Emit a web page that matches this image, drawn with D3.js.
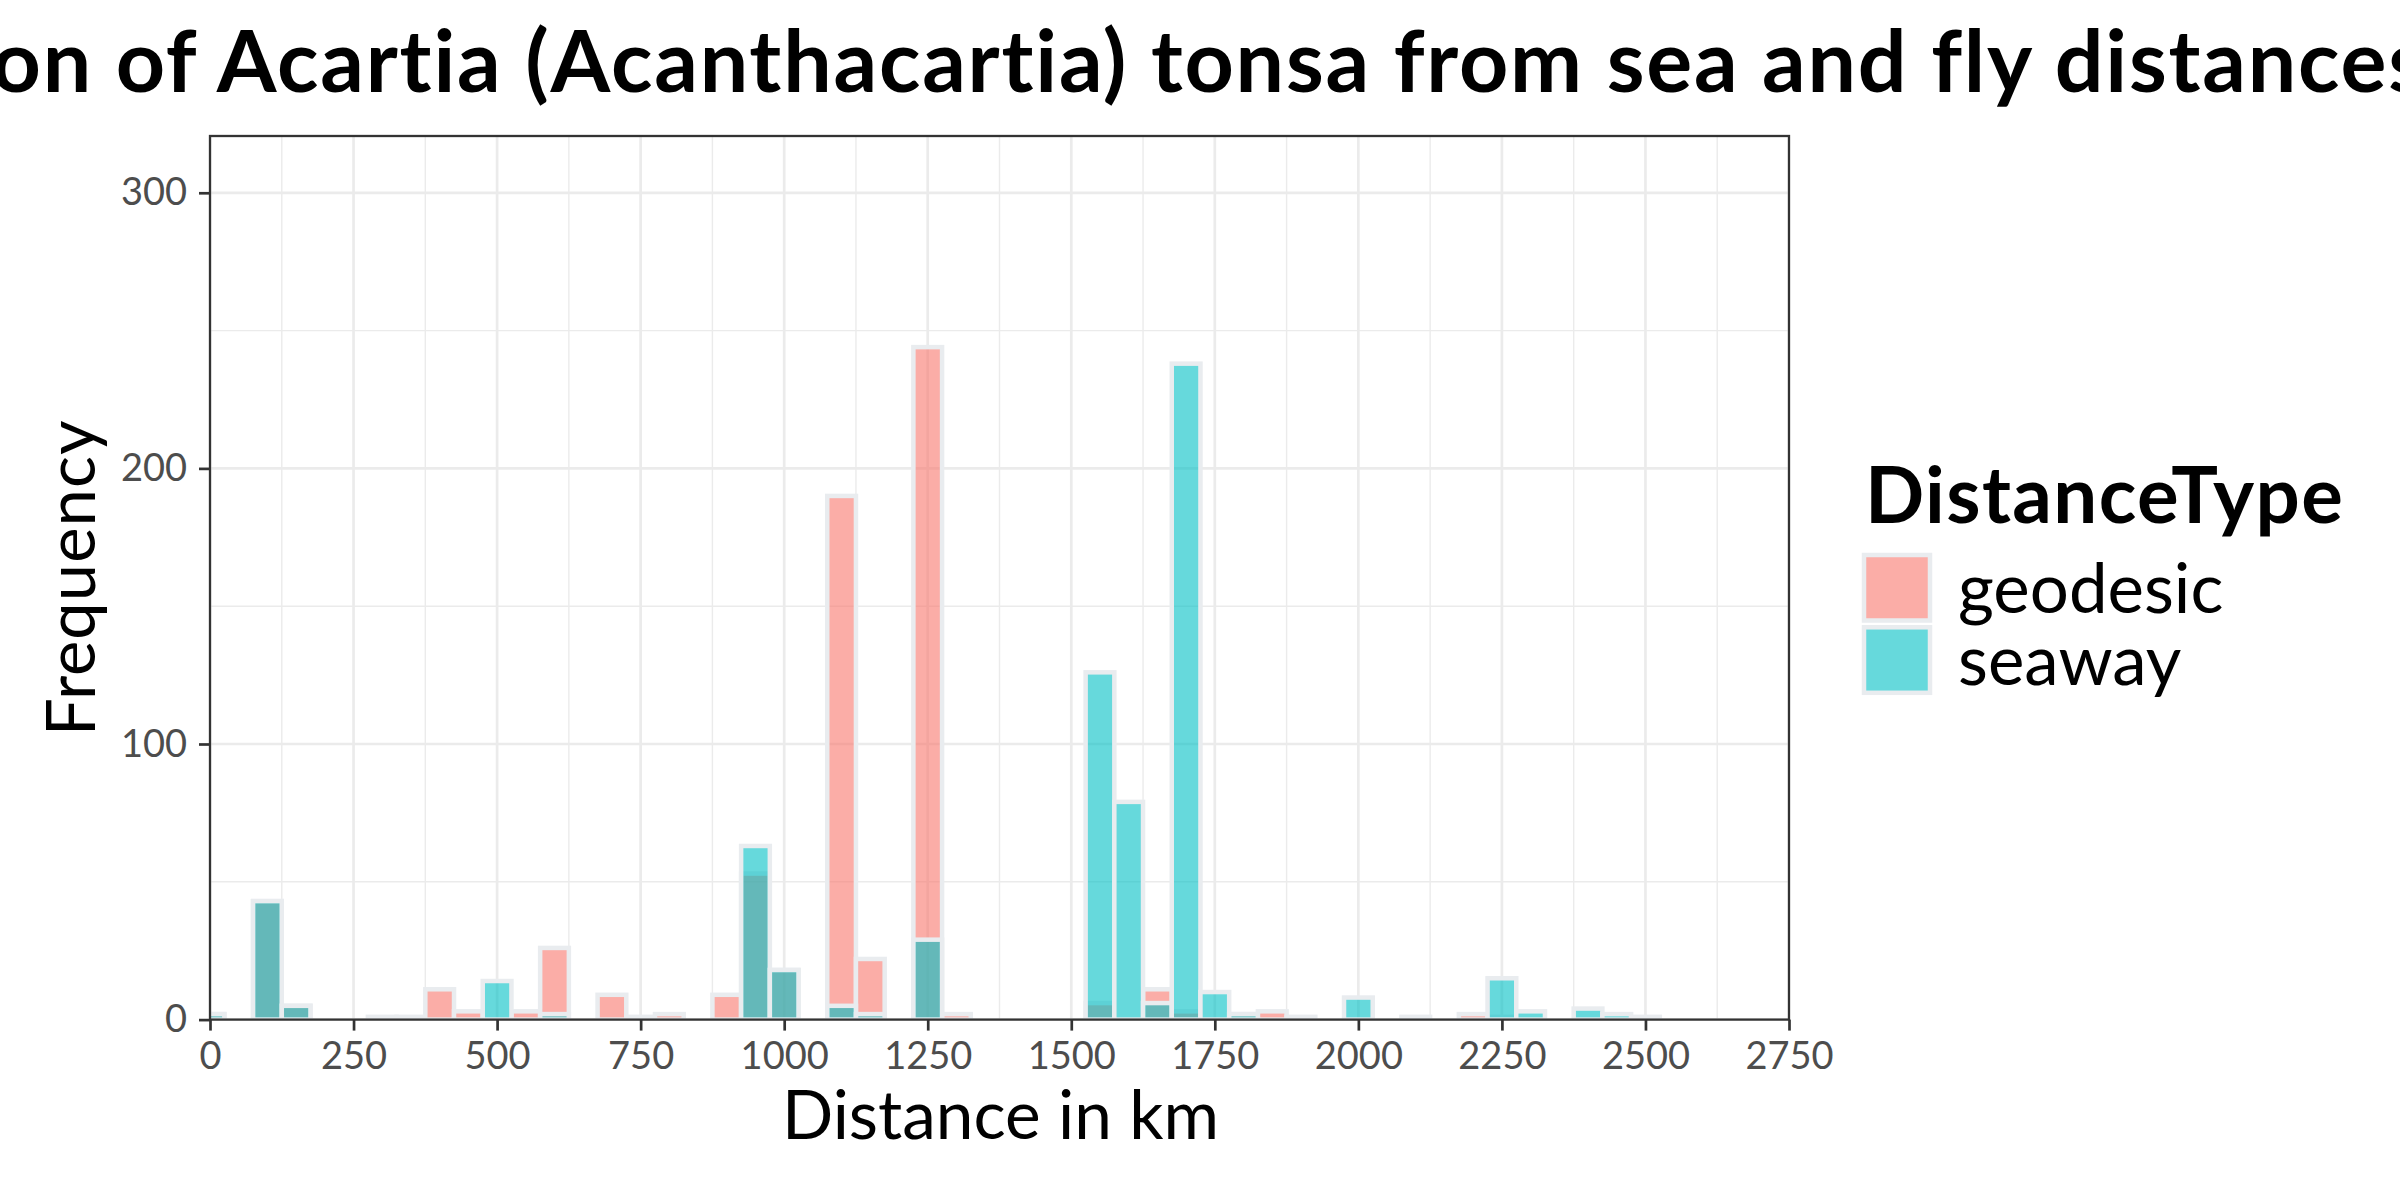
<!DOCTYPE html>
<html>
<head>
<meta charset="utf-8">
<script src="https://cdn.jsdelivr.net/npm/d3@7"></script>
<style>
  html, body { margin: 0; padding: 0; background: #ffffff; }
  svg { display: block; }
</style>
</head>
<body>
<script>
// ---------------- data ----------------
const binMids = [0, 50, 100, 150, 200, 250, 300, 350, 400, 450, 500, 550, 600, 650, 700, 750, 800, 850, 900, 950,
  1000, 1050, 1100, 1150, 1200, 1250, 1300, 1350, 1400, 1450, 1500, 1550, 1600, 1650, 1700, 1750, 1800, 1850, 1900, 1950,
  2000, 2050, 2100, 2150, 2200, 2250, 2300, 2350, 2400, 2450, 2500];
const geodesic = [2, 0, 43, 5, 0, 0, 1, 1, 11, 3, 0, 3, 26, 0, 9, 1, 2, 0, 9, 53,
  18, 0, 190, 22, 0, 244, 2, 0, 0, 0, 0, 6, 0, 11, 3, 0, 2, 3, 0, 0,
  0, 0, 1, 0, 2, 1, 0, 0, 0, 0, 0];
const seaway = [2, 0, 43, 5, 0, 0, 0, 0, 0, 0, 14, 0, 2, 0, 0, 0, 0, 0, 0, 63,
  18, 0, 5, 2, 0, 29, 0, 0, 0, 0, 0, 126, 79, 6, 238, 10, 2, 0, 1, 0,
  8, 0, 0, 0, 0, 15, 3, 0, 4, 2, 1];
const binWidth = 50;
const seriesNames = ["geodesic", "seaway"];
const seriesColors = ["#F8766D", "#00BFC4"];
const xTicks = [0, 250, 500, 750, 1000, 1250, 1500, 1750, 2000, 2250, 2500, 2750];
const xMinor = [125, 375, 625, 875, 1125, 1375, 1625, 1875, 2125, 2375, 2625];
const yTicks = [0, 100, 200, 300];
const yMinor = [50, 150, 250];
const titleText = "Distribution of Acartia (Acanthacartia) tonsa from sea and fly distances";
const xTitle = "Distance in km";
const yTitle = "Frequency";
const legendTitle = "DistanceType";

// ---------------- layout ----------------
const W = 2400, H = 1200;
const panel = { left: 210, right: 1789, top: 136, bottom: 1019.6 };
const FONT = "Lato, 'Open Sans', sans-serif";

const svg = d3.select("body").append("svg")
  .attr("width", W).attr("height", H)
  .attr("viewBox", `0 0 ${W} ${H}`);
svg.append("rect").attr("width", W).attr("height", H).attr("fill", "#ffffff");

const x = d3.scaleLinear().domain([0, 2750]).range([panel.left, panel.right]);
const y = d3.scaleLinear().domain([0, 320.6]).range([panel.bottom, panel.top]);

// clip
svg.append("defs").append("clipPath").attr("id", "panelClip")
  .append("rect")
  .attr("x", panel.left).attr("y", panel.top)
  .attr("width", panel.right - panel.left).attr("height", panel.bottom - panel.top);

// grid
const grid = svg.append("g").attr("clip-path", "url(#panelClip)");
grid.selectAll(".xminor").data(xMinor).join("line")
  .attr("x1", d => x(d)).attr("x2", d => x(d))
  .attr("y1", panel.top).attr("y2", panel.bottom)
  .attr("stroke", "#EBEBEB").attr("stroke-width", 1.4);
grid.selectAll(".yminor").data(yMinor).join("line")
  .attr("x1", panel.left).attr("x2", panel.right)
  .attr("y1", d => y(d)).attr("y2", d => y(d))
  .attr("stroke", "#EBEBEB").attr("stroke-width", 1.4);
grid.selectAll(".xmajor").data(xTicks).join("line")
  .attr("x1", d => x(d)).attr("x2", d => x(d))
  .attr("y1", panel.top).attr("y2", panel.bottom)
  .attr("stroke", "#EBEBEB").attr("stroke-width", 2.7);
grid.selectAll(".ymajor").data(yTicks).join("line")
  .attr("x1", panel.left).attr("x2", panel.right)
  .attr("y1", d => y(d)).attr("y2", d => y(d))
  .attr("stroke", "#EBEBEB").attr("stroke-width", 2.7);

// bars
const bars = svg.append("g").attr("clip-path", "url(#panelClip)");
[geodesic, seaway].forEach((counts, si) => {
  const data = binMids.map((m, i) => ({ mid: m, count: counts[i] })).filter(d => d.count > 0);
  bars.append("g").selectAll("rect").data(data).join("rect")
    .attr("x", d => x(d.mid - binWidth / 2))
    .attr("width", d => x(d.mid + binWidth / 2) - x(d.mid - binWidth / 2))
    .attr("y", d => y(d.count))
    .attr("height", d => y(0) - y(d.count))
    .attr("fill", seriesColors[si])
    .attr("fill-opacity", 0.6)
    .attr("stroke", "#E9ECEF")
    .attr("stroke-width", 4.5);
});

// panel border
svg.append("rect")
  .attr("x", panel.left).attr("y", panel.top)
  .attr("width", panel.right - panel.left).attr("height", panel.bottom - panel.top)
  .attr("fill", "none").attr("stroke", "#333333").attr("stroke-width", 2.3);

// axes
const xAxis = svg.append("g")
  .attr("transform", `translate(0,${panel.bottom})`)
  .call(d3.axisBottom(x).tickValues(xTicks).tickSize(11).tickPadding(11).tickFormat(d3.format("d")));
const yAxis = svg.append("g")
  .attr("transform", `translate(${panel.left},0)`)
  .call(d3.axisLeft(y).tickValues(yTicks).tickSize(11).tickPadding(12).tickFormat(d3.format("d")));
[xAxis, yAxis].forEach(a => {
  a.select(".domain").remove();
  a.selectAll(".tick line").attr("stroke", "#333333").attr("stroke-width", 2.7);
  a.selectAll(".tick text")
    .attr("fill", "#4D4D4D")
    .style("font-family", FONT)
    .style("font-size", "38px");
});

// title
svg.append("text")
  .attr("x", 1020).attr("y", 92)
  .attr("text-anchor", "middle")
  .style("font-family", FONT).style("font-weight", "bold").style("font-size", "86px")
  .style("letter-spacing", "1.8px")
  .attr("fill", "#000000")
  .text(titleText);

// axis titles
svg.append("text")
  .attr("x", (panel.left + panel.right) / 2 + 1).attr("y", 1139)
  .attr("text-anchor", "middle")
  .style("font-family", FONT).style("font-size", "67.5px")
  .attr("fill", "#000000")
  .text(xTitle);
svg.append("text")
  .attr("transform", `translate(95,${(panel.top + panel.bottom) / 2}) rotate(-90)`)
  .attr("text-anchor", "middle")
  .style("font-family", FONT).style("font-size", "67px")
  .style("letter-spacing", "1px")
  .attr("fill", "#000000")
  .text(yTitle);

// legend
const lg = svg.append("g");
lg.append("text")
  .attr("x", 1865).attr("y", 523)
  .style("font-family", FONT).style("font-weight", "bold").style("font-size", "78px")
  .style("letter-spacing", "1.4px")
  .attr("fill", "#000000")
  .text(legendTitle);
const keyY = [555, 627.3];
const labelY = [613, 685];
seriesNames.forEach((name, i) => {
  lg.append("rect")
    .attr("x", 1864).attr("y", keyY[i])
    .attr("width", 66).attr("height", 65.5)
    .attr("fill", seriesColors[i]).attr("fill-opacity", 0.6)
    .attr("stroke", "#E9ECEF").attr("stroke-width", 4.5);
  lg.append("text")
    .attr("x", 1958).attr("y", labelY[i])
    .style("font-family", FONT).style("font-size", "69px")
    .attr("fill", "#000000")
    .text(name);
});
</script>
</body>
</html>
